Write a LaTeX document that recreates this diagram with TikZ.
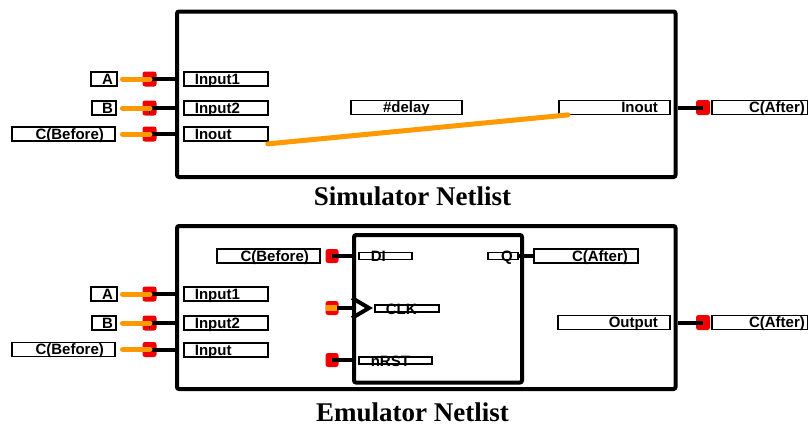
\documentclass[tikz,border=0pt]{standalone}
\usepackage{fontspec}
\setmainfont{Liberation Serif}
\setsansfont{Liberation Sans}
\usepackage{tikz}
\usetikzlibrary{positioning, calc}

\definecolor{padred}{RGB}{240,0,0}
\definecolor{wireorange}{RGB}{255,153,0}

\begin{document}
\begin{tikzpicture}[x=1pt, y=-1pt,
    lbl/.style={draw, line width=1.8, font=\sffamily\bfseries\fontsize{15}{15}\selectfont,
        text height=11, text depth=1, inner ysep=1, anchor=west},
    fpin/.style={draw, line width=1.5, font=\sffamily\bfseries\fontsize{15}{15}\selectfont,
        text height=11, text depth=0, inner ysep=-2, anchor=west},
    pad/.style={fill=padred, rounded corners=2.5, minimum width=14, minimum height=15, inner sep=0},
    netbox/.style={draw, line width=4, rounded corners=2, inner sep=0},
    wire/.style={line width=4},
    owire/.style={draw=wireorange, line width=5, line cap=round},
    title/.style={font=\rmfamily\bfseries\fontsize{27}{27}\selectfont, anchor=base}]
    \useasboundingbox (0,0) rectangle (808,426);

    % Simulator netlist
    \node [netbox, minimum width=498.5, minimum height=165.5] (sim) at (426.25,94.25) {};
    \node [lbl, inner xsep=4, text width=18, align=right] (srcA) at (90,79) {A};
    \node [lbl, inner xsep=3, text width=18, align=right] (srcB) at (91,108) {B};
    \node [lbl, inner xsep=11, text width=81, align=right] (srcC) at (11,134) {C(Before)};
    \node [pad] (pinA) at (149.5,79) {};
    \node [pad] (pinB) at (149.5,108) {};
    \node [pad] (pinC) at (149.5,134) {};
    \node [lbl, inner xsep=11, text width=62, align=left] (in1) at (183,79) {Input1};
    \node [lbl, inner xsep=11, text width=62, align=left] (in2) at (183,108) {Input2};
    \node [lbl, inner xsep=11, text width=62, align=left] (inout) at (183,134) {Inout};
    \node [lbl, inner xsep=4, text width=103, align=center] (delay) at (350,107.5) {\#delay};
    \node [lbl, inner xsep=12, text width=87, align=right] (inoutR) at (558,107.5) {Inout};
    \node [pad] (pinOut) at (703,107.5) {};
    \node [lbl, inner xsep=3, text width=90, align=right] (dstC) at (711,107.5) {C(After)};
    \node [title] (simTitle) at (412.5,205) {Simulator Netlist};

    % pins into the simulator box
    \draw[wire] (pinA.center) -- (pinA -| sim.west);
    \draw[wire] (pinB.center) -- (pinB -| sim.west);
    \draw[wire] (pinC.center) -- (pinC -| sim.west);
    \draw[line width=1.5] ([yshift=-5.5]pinB.center) -- (pinB.center);
    \draw[wire] (pinOut.center) -- (pinOut -| sim.east);
    \draw[owire] ([xshift=-27]pinA.center) -- ([xshift=0.5]pinA.center);
    \draw[owire] ([xshift=-27]pinB.center) -- ([xshift=0.5]pinB.center);
    \draw[owire] ([xshift=-27]pinC.center) -- ([xshift=0.5]pinC.center);
    \draw[owire] ([shift={(-1,2)}]inout.south east) -- ([shift={(10,-0.5)}]inoutR.south west);

    % Emulator netlist
    \node [netbox, minimum width=498.5, minimum height=163] (emu) at (426.25,307.5) {};
    \node [netbox, minimum width=168, minimum height=147.5] (ff) at (438,308.75) {};
    \node [lbl, inner xsep=4, text width=18, align=right] (eA) at (90,294) {A};
    \node [lbl, inner xsep=3, text width=18, align=right] (eB) at (91,323) {B};
    \node [lbl, inner xsep=11, text width=81, align=right] (eC) at (11,349.5) {C(Before)};
    \node [pad] (epA) at (149.5,294) {};
    \node [pad] (epB) at (149.5,323) {};
    \node [pad] (epC) at (149.5,349.5) {};
    \node [lbl, inner xsep=11, text width=62, align=left] (ein1) at (183,294) {Input1};
    \node [lbl, inner xsep=11, text width=62, align=left] (ein2) at (183,323) {Input2};
    \node [lbl, inner xsep=11, text width=62, align=left] (ein) at (183,350) {Input};
    \node [lbl, inner xsep=12, text width=88, align=right] (eout) at (557,322.5) {Output};
    \node [pad] (epOut) at (703,322.5) {};
    \node [lbl, inner xsep=3, text width=90, align=right] (edstC) at (711,322.5) {C(After)};
    \node [title] (emuTitle) at (412.5,421) {Emulator Netlist};

    % flip-flop and its pins
    \node [lbl, inner xsep=11, text width=81, align=right] (ffSrc) at (216,256) {C(Before)};
    \node [pad, minimum width=13, minimum height=14] (pDI) at (332,256) {};
    \node [pad, minimum width=13, minimum height=14] (pCLK) at (332,308) {};
    \node [pad, minimum width=13, minimum height=14] (pRST) at (332,360) {};
    \node [fpin, inner xsep=12, text width=29, align=left] (di) at (358,256) {DI};
    \node [fpin, inner xsep=11, text width=42, align=left] (clk) at (374,308.5) {CLK};
    \node [fpin, inner xsep=12, text width=49, align=left] (rst) at (358,360.5) {nRST};
    \node [fpin, inner xsep=5, text width=20, align=right] (q) at (487,256) {Q};
    \node [lbl, inner xsep=10, text width=84, align=right] (ffDst) at (533,256) {C(After)};
    \coordinate (clkIn) at (ff.west |- pCLK);

    \draw[wire] (pDI.center) -- (pDI -| ff.west);
    \draw[wire] (pCLK.center) -- (clkIn);
    \draw[draw=wireorange, line width=5.5] ([xshift=-6]pCLK.center) -- ([xshift=5]pCLK.center);
    \draw[wire] (pRST.center) -- (pRST -| ff.west);
    \draw[wire] (q.east) -- (ffDst.west);
    \draw[wire, line join=miter] ([yshift=-10]clkIn) -- ([xshift=17]clkIn) -- ([yshift=10]clkIn);

    % pins into the emulator box
    \draw[wire] (epA.center) -- (epA -| emu.west);
    \draw[wire] (epB.center) -- (epB -| emu.west);
    \draw[wire] (epC.center) -- (epC -| emu.west);
    \draw[line width=1.5] ([yshift=-5.5]epB.center) -- (epB.center);
    \draw[wire] (epOut.center) -- (epOut -| emu.east);
    \draw[owire] ([xshift=-27]epA.center) -- ([xshift=0.5]epA.center);
    \draw[owire] ([xshift=-27]epB.center) -- ([xshift=0.5]epB.center);
    \draw[owire] ([xshift=-27]epC.center) -- ([xshift=0.5]epC.center);
\end{tikzpicture}
\end{document}
